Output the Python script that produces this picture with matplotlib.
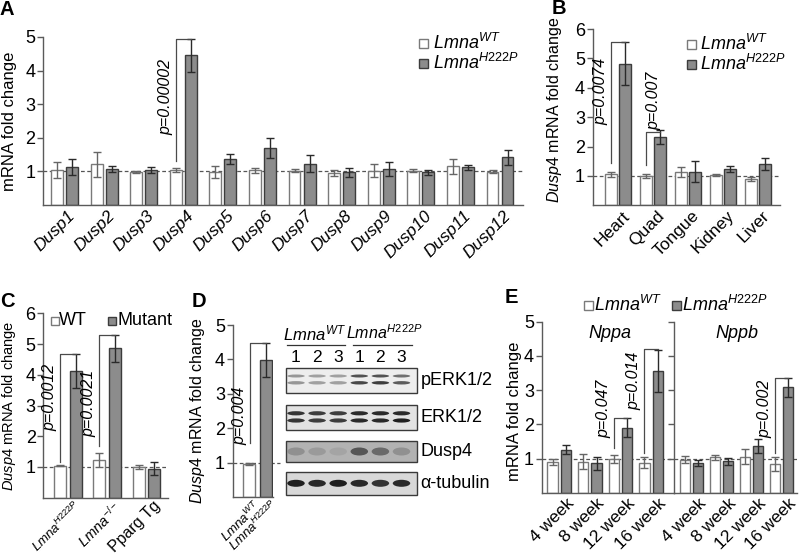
import matplotlib
matplotlib.use('Agg')
import matplotlib.pyplot as plt
from matplotlib.patches import Rectangle, Ellipse
import matplotlib.transforms as mtransforms
import numpy as np

plt.rcParams['font.family'] = ['Liberation Sans', 'DejaVu Sans']
plt.rcParams['mathtext.fontset'] = 'custom'
plt.rcParams['mathtext.it'] = 'Liberation Sans:italic'
plt.rcParams['mathtext.rm'] = 'Liberation Sans'
plt.rcParams['mathtext.bf'] = 'Liberation Sans:bold'
plt.rcParams['mathtext.default'] = 'it'

# ---------------- data ----------------
A_genes = ['Dusp1', 'Dusp2', 'Dusp3', 'Dusp4', 'Dusp5', 'Dusp6',
           'Dusp7', 'Dusp8', 'Dusp9', 'Dusp10', 'Dusp11', 'Dusp12']
A_wt = [1.04, 1.21, 0.98, 1.04, 0.98, 1.03, 1.02, 0.95, 1.02, 1.02, 1.15, 0.99]
A_wt_err = [0.24, 0.38, 0.03, 0.05, 0.17, 0.08, 0.05, 0.10, 0.19, 0.04, 0.23, 0.05]
A_mut = [1.13, 1.06, 1.04, 4.45, 1.37, 1.70, 1.23, 0.97, 1.07, 0.97, 1.12, 1.42]
A_mut_err = [0.23, 0.09, 0.09, 0.48, 0.15, 0.30, 0.25, 0.14, 0.20, 0.08, 0.08, 0.22]
A_p = [(3, 'p=0.00002')]

B_tissues = ['Heart', 'Quad', 'Tongue', 'Kidney', 'Liver']
B_wt = [1.06, 1.00, 1.12, 1.03, 0.90]
B_wt_err = [0.08, 0.07, 0.17, 0.04, 0.08]
B_mut = [4.82, 2.32, 1.15, 1.25, 1.40]
B_mut_err = [0.74, 0.24, 0.35, 0.10, 0.20]
B_p = [(0, 'p=0.0074'), (1, 'p=0.007')]

C_groups = [r'$Lmna^{H222P}$', r'$Lmna^{-/-}$', 'Pparg Tg']
C_wt = [1.04, 1.22, 1.00]
C_wt_err = [0.02, 0.22, 0.05]
C_mut = [4.12, 4.86, 0.95]
C_mut_err = [0.54, 0.45, 0.22]
C_p = [(0, 'p=0.0012'), (1, 'p=0.0021')]

D_groups = [r'$Lmna^{WT}$', r'$Lmna^{H222P}$']
D_vals = [0.96, 3.98]
D_err = [0.04, 0.50]
D_p = 'p=0.004'

E_weeks = ['4 week', '8 week', '12 week', '16 week']
Nppa_wt = [0.90, 0.90, 0.98, 0.88]
Nppa_wt_err = [0.08, 0.22, 0.12, 0.15]
Nppa_mut = [1.26, 0.86, 1.90, 3.55]
Nppa_mut_err = [0.14, 0.19, 0.27, 0.62]
Nppb_wt = [0.97, 1.03, 1.05, 0.83]
Nppb_wt_err = [0.09, 0.08, 0.22, 0.20]
Nppb_mut = [0.86, 0.92, 1.36, 3.08]
Nppb_mut_err = [0.09, 0.10, 0.20, 0.27]
Nppa_p = [(2, 'p=0.047'), (3, 'p=0.014')]
Nppb_p = [(3, 'p=0.002')]

blot_names = ['pERK1/2', 'ERK1/2', 'Dusp4', 'α-tubulin']
blot_lanes = ['1', '2', '3', '1', '2', '3']
pERK_upper = [0.35, 0.30, 0.30, 0.70, 0.70, 0.55]
pERK_lower = [0.35, 0.30, 0.30, 0.75, 0.80, 0.65]
ERK_upper = [0.85, 0.80, 0.80, 0.90, 0.90, 0.90]
ERK_lower = [0.85, 0.80, 0.80, 0.90, 0.90, 0.95]
Dusp4_band = [0.35, 0.30, 0.25, 0.65, 0.55, 0.35]
tubulin_band = [0.95, 0.90, 0.95, 0.90, 0.85, 0.90]

# ---------------- style ----------------
W, H = 800, 557
fig = plt.figure(figsize=(8, 5.57), dpi=100)

WT_FACE = 'white'
WT_EDGE = '#7a7a7a'
MUT_FACE = '#8c8c8c'
MUT_EDGE = '#3c3c3c'
SPINE = '#5a5a5a'
FS = 12
PFS = 11.5


def px_axes(x0, y0, x1, y1):
    return fig.add_axes([x0 / W, 1 - y1 / H, (x1 - x0) / W, (y1 - y0) / H])


def style_axes(ax, ymax, yticks):
    ax.set_ylim(0, ymax)
    ax.set_yticks(yticks)
    for s in ['top', 'right']:
        ax.spines[s].set_visible(False)
    for s in ['left', 'bottom']:
        ax.spines[s].set_color(SPINE)
        ax.spines[s].set_linewidth(1.0)
    ax.tick_params(axis='y', direction='out', length=4, width=1, color=SPINE,
                   labelsize=13, pad=1.5)
    ax.tick_params(axis='x', length=0, labelsize=FS, pad=2)
    ax.patch.set_alpha(0)


def draw_pair(ax, wt, wte, mut, mute, off, width):
    x = np.arange(len(wt), dtype=float)
    ax.bar(x - off, wt, width, color=WT_FACE, edgecolor=WT_EDGE, linewidth=1.0, zorder=2)
    ax.bar(x + off, mut, width, color=MUT_FACE, edgecolor=MUT_EDGE, linewidth=1.0, zorder=2)
    ax.errorbar(x - off, wt, yerr=wte, fmt='none', ecolor='#666666', elinewidth=1,
                capsize=2.8, capthick=1, zorder=3)
    ax.errorbar(x + off, mut, yerr=mute, fmt='none', ecolor='#2a2a2a', elinewidth=1,
                capsize=2.8, capthick=1, zorder=3)
    return x


def dashed(ax, x0=None, x1=None):
    xl = ax.get_xlim()
    x0 = xl[0] if x0 is None else x0
    x1 = xl[1] if x1 is None else x1
    ax.plot([x0, x1], [1, 1], color='#555555', lw=0.9, ls=(0, (3, 2)), zorder=1, clip_on=False)


def bracket(ax, xw, xm, ybot, ytop, txt, ytxt, side='left'):
    ax.plot([xw, xw, xm], [ybot, ytop, ytop], color='#4a4a4a', lw=0.9, zorder=3, clip_on=False)
    if side == 'left':
        ax.annotate(txt, xy=(xw, ytxt), xytext=(-2.0, 0), textcoords='offset points',
                    rotation=90, ha='right', va='bottom', fontsize=PFS, style='italic')
    else:
        ax.annotate(txt, xy=(xw, ytxt), xytext=(0.5, 0), textcoords='offset points',
                    rotation=90, ha='left', va='bottom', fontsize=PFS, style='italic')


def ylabel_px(ax, text, x_px, ax_x0, ax_w, yfrac=0.5, fs=FS):
    ax.set_ylabel(text, fontsize=fs)
    ax.yaxis.set_label_coords((x_px - ax_x0) / ax_w, yfrac)


def shift_labels(ax, dx_px, dy_px=0):
    off = mtransforms.ScaledTranslation(dx_px / 100, dy_px / 100, fig.dpi_scale_trans)
    for lab in ax.get_xticklabels():
        lab.set_transform(lab.get_transform() + off)


# ---------------- Panel A ----------------
axA = px_axes(43, 37, 523, 205)
style_axes(axA, 5, [1, 2, 3, 4, 5])
axA.set_xlim(-0.543, 11.58)
offA, wA = 0.19, 0.30
xA = draw_pair(axA, A_wt, A_wt_err, A_mut, A_mut_err, offA, wA)
dashed(axA)
axA.set_xticks(xA)
axA.set_xticklabels(A_genes, rotation=45, ha='right', rotation_mode='anchor',
                    fontstyle='italic', fontsize=12.5)
shift_labels(axA, 3)
ylabel_px(axA, 'mRNA fold change', 17, 43, 480)
for i, t in A_p:
    top = A_mut[i] + A_mut_err[i]
    bracket(axA, i - offA, i + offA, 1.30, top, t, 2.08)

# ---------------- Panel B ----------------
axB = px_axes(592.7, 29, 780, 205.4)
style_axes(axB, 6, [1, 2, 3, 4, 5, 6])
axB.set_xlim(-0.72, 4.63)
offB, wB = 0.204, 0.334
xB = draw_pair(axB, B_wt, B_wt_err, B_mut, B_mut_err, offB, wB)
dashed(axB)
axB.set_xticks(xB)
axB.set_xticklabels(B_tissues, rotation=45, ha='right', rotation_mode='anchor', fontsize=12.5)
shift_labels(axB, 4)
ylabel_px(axB, r'$\mathit{Dusp4}$ mRNA fold change', 564, 592.7, 187.3, 0.54, 11.5)
top0 = B_mut[0] + B_mut_err[0]
bracket(axB, 0 - offB, 0 + offB, 1.43, top0, B_p[0][1], 2.72)
top1 = B_mut[1] + B_mut_err[1]
bracket(axB, 1 - offB, 1 + offB, 1.37, top1 - 0.06, B_p[1][1], 2.56, side='right')

# ---------------- Panel C ----------------
axC = px_axes(43.3, 313.3, 168, 497.7)
style_axes(axC, 6, [1, 2, 3, 4, 5, 6])
axC.set_xlim(-0.63, 2.55)
offC, wC = 0.2, 0.306
xC = draw_pair(axC, C_wt, C_wt_err, C_mut, C_mut_err, offC, wC)
dashed(axC)
axC.set_xticks(xC)
C_fs = [9.5, 10.5, 11.5]
axC.set_xticklabels(C_groups, rotation=45, ha='right', rotation_mode='anchor')
for lab, f in zip(axC.get_xticklabels(), C_fs):
    lab.set_fontsize(f)
shift_labels(axC, 6, 2)
ylabel_px(axC, r'$\mathit{Dusp4}$ mRNA fold change', 18.5, 43.3, 124.7, 0.5, 10.5)
bracket(axC, 0 - offC, 0 + offC, 1.17, C_mut[0] + C_mut_err[0], C_p[0][1], 2.18)
bracket(axC, 1 - offC, 1 + offC, 1.69, C_mut[1] + C_mut_err[1], C_p[1][1], 1.96)

# ---------------- Panel D ----------------
axD = px_axes(232.7, 325, 273, 497)
style_axes(axD, 5, [1, 2, 3, 4, 5])
axD.set_xlim(-0.93, 1.4)
xD = np.arange(2)
axD.bar(xD[0], D_vals[0], 0.71, color=WT_FACE, edgecolor=WT_EDGE, linewidth=1.0, zorder=2)
axD.bar(xD[1], D_vals[1], 0.71, color=MUT_FACE, edgecolor=MUT_EDGE, linewidth=1.0, zorder=2)
axD.errorbar(xD[0], D_vals[0], yerr=D_err[0], fmt='none', ecolor='#666666', elinewidth=1,
             capsize=2.8, capthick=1, zorder=3)
axD.errorbar(xD[1], D_vals[1], yerr=D_err[1], fmt='none', ecolor='#2a2a2a', elinewidth=1,
             capsize=2.8, capthick=1, zorder=3)
dashed(axD, -0.93, 1.8)
axD.set_xticks(xD)
axD.set_xticklabels(D_groups, rotation=45, ha='right', rotation_mode='anchor', fontsize=9.5)
shift_labels(axD, 5, 2)
ylabel_px(axD, r'$\mathit{Dusp4}$ mRNA fold change', 207, 232.7, 40.3, 0.5, 11.5)
bracket(axD, 0.07, 1.0, 1.57, D_vals[1] + D_err[1], D_p, 1.51)

# ---------------- Panel E ----------------
axE1 = px_axes(541.7, 321.7, 674.3, 492.7)
axE2 = px_axes(674.3, 321.7, 796.7, 492.7)
style_axes(axE1, 5, [1, 2, 3, 4, 5])
style_axes(axE2, 5, [1, 2, 3, 4, 5])
axE2.tick_params(axis='y', labelleft=False)
axE1.set_xlim(-0.575, 3.76)
axE2.set_xlim(-0.573, 3.51)
offE, wE = 0.22, 0.34
xE1 = draw_pair(axE1, Nppa_wt, Nppa_wt_err, Nppa_mut, Nppa_mut_err, offE, wE)
xE2 = draw_pair(axE2, Nppb_wt, Nppb_wt_err, Nppb_mut, Nppb_mut_err, offE, wE)
dashed(axE1)
dashed(axE2)
for ax, xx in [(axE1, xE1), (axE2, xE2)]:
    ax.set_xticks(xx)
    ax.set_xticklabels(E_weeks, rotation=45, ha='right', rotation_mode='anchor', fontsize=12.5)
    shift_labels(ax, 7)
ylabel_px(axE1, 'mRNA fold change', 522, 541.7, 132.6, 0.474)
axE1.text(0.5 * sum(axE1.get_xlim()) + 0.05, 4.65, 'Nppa', ha='center',
          va='center', fontsize=13, style='italic')
axE2.text(0.5 * sum(axE2.get_xlim()) + 0.05, 4.65, 'Nppb', ha='center',
          va='center', fontsize=13, style='italic')
bracket(axE1, 2 - offE, 2 + offE, 1.30, Nppa_mut[2] + Nppa_mut_err[2] + 0.01, Nppa_p[0][1], 1.6)
bracket(axE1, 3 - offE, 3 + offE, 1.17, Nppa_mut[3] + Nppa_mut_err[3] + 0.02, Nppa_p[1][1], 2.43)
bracket(axE2, 3 - offE, 3 + offE, 1.15, Nppb_mut[3] + Nppb_mut_err[3] - 0.01, Nppb_p[0][1], 1.6)

# ---------------- overlay: letters, legends, blots ----------------
ov = fig.add_axes([0, 0, 1, 1], zorder=10)
ov.set_xlim(0, W)
ov.set_ylim(H, 0)
ov.axis('off')
ov.patch.set_alpha(0)

for letter, (lx, ly) in zip('ABCDE', [(0, 0), (552, -1), (0, 292), (192, 292), (505, 288)]):
    ov.text(lx, ly, letter, ha='left', va='top', fontsize=14.5, fontweight='bold')


def legend_square(x, y, face, edge, size=9):
    ov.add_patch(Rectangle((x - size / 2, y - size / 2), size, size, facecolor=face,
                           edgecolor=edge, lw=1.0))


LFS = 13
# legend A
legend_square(423, 43, WT_FACE, WT_EDGE)
legend_square(423, 63, MUT_FACE, MUT_EDGE)
ov.text(433, 42.5, r'$Lmna^{WT}$', ha='left', va='center', fontsize=LFS)
ov.text(433, 62.5, r'$Lmna^{H222P}$', ha='left', va='center', fontsize=LFS)
# legend B
legend_square(691, 44.8, WT_FACE, WT_EDGE)
legend_square(691, 64.2, MUT_FACE, MUT_EDGE)
ov.text(700, 44.3, r'$Lmna^{WT}$', ha='left', va='center', fontsize=LFS)
ov.text(700, 63.7, r'$Lmna^{H222P}$', ha='left', va='center', fontsize=LFS)
# legend C
legend_square(54.5, 320.8, WT_FACE, WT_EDGE, 8)
legend_square(112, 320.8, MUT_FACE, MUT_EDGE, 8)
ov.text(59, 320.8, 'WT', ha='left', va='center', fontsize=13)
ov.text(117.5, 320.8, 'Mutant', ha='left', va='center', fontsize=13)
# legend E
legend_square(588.3, 305, WT_FACE, WT_EDGE)
legend_square(676.7, 305, MUT_FACE, MUT_EDGE)
ov.text(593.5, 304.5, r'$Lmna^{WT}$', ha='left', va='center', fontsize=LFS)
ov.text(682.3, 304.5, r'$Lmna^{H222P}$', ha='left', va='center', fontsize=LFS)

# western blot
lane0, lane_step = 296.0, 21.1
box_x0, box_x1 = 286, 417
ov.text(315, 333, r'$Lmna^{WT}$', ha='center', va='center', fontsize=12)
ov.text(384, 333, r'$Lmna^{H222P}$', ha='center', va='center', fontsize=11.5)
ov.plot([287, 345], [344.5, 344.5], color='#333333', lw=0.9)
ov.plot([353, 412], [344.5, 344.5], color='#333333', lw=0.9)
for i, lab in enumerate(blot_lanes):
    ov.text(lane0 + i * lane_step, 357, lab, ha='center', va='center', fontsize=12.5)

blots = [
    ('pERK1/2', 368.3, 393, '#ededed', [(376.0, pERK_upper, 3.0), (382.8, pERK_lower, 3.4)]),
    ('ERK1/2', 405, 430, '#e2e2e2', [(413.3, ERK_upper, 4.2), (420.5, ERK_lower, 4.2)]),
    ('Dusp4', 440.7, 461.7, '#b2b2b2', [(451.5, Dusp4_band, 8.0)]),
    ('α-tubulin', 471.7, 495, '#d8d8d8', [(483.3, tubulin_band, 7.0)]),
]
for name, y0, y1, bg, bands in blots:
    ov.add_patch(Rectangle((box_x0, y0), box_x1 - box_x0, y1 - y0, facecolor=bg,
                           edgecolor='#3a3a3a', lw=1.0))
    for yc, vals, hgt in bands:
        for i, v in enumerate(vals):
            g = 1 - v
            col = (g * 0.85, g * 0.85, g * 0.85)
            ov.add_patch(Ellipse((lane0 + i * lane_step, yc), 17.5, hgt, facecolor=col,
                                 edgecolor='none', alpha=0.9))
    ov.text(420.5, 0.5 * (y0 + y1), name, ha='left', va='center', fontsize=13)

fig.savefig('out.png', dpi=100)
